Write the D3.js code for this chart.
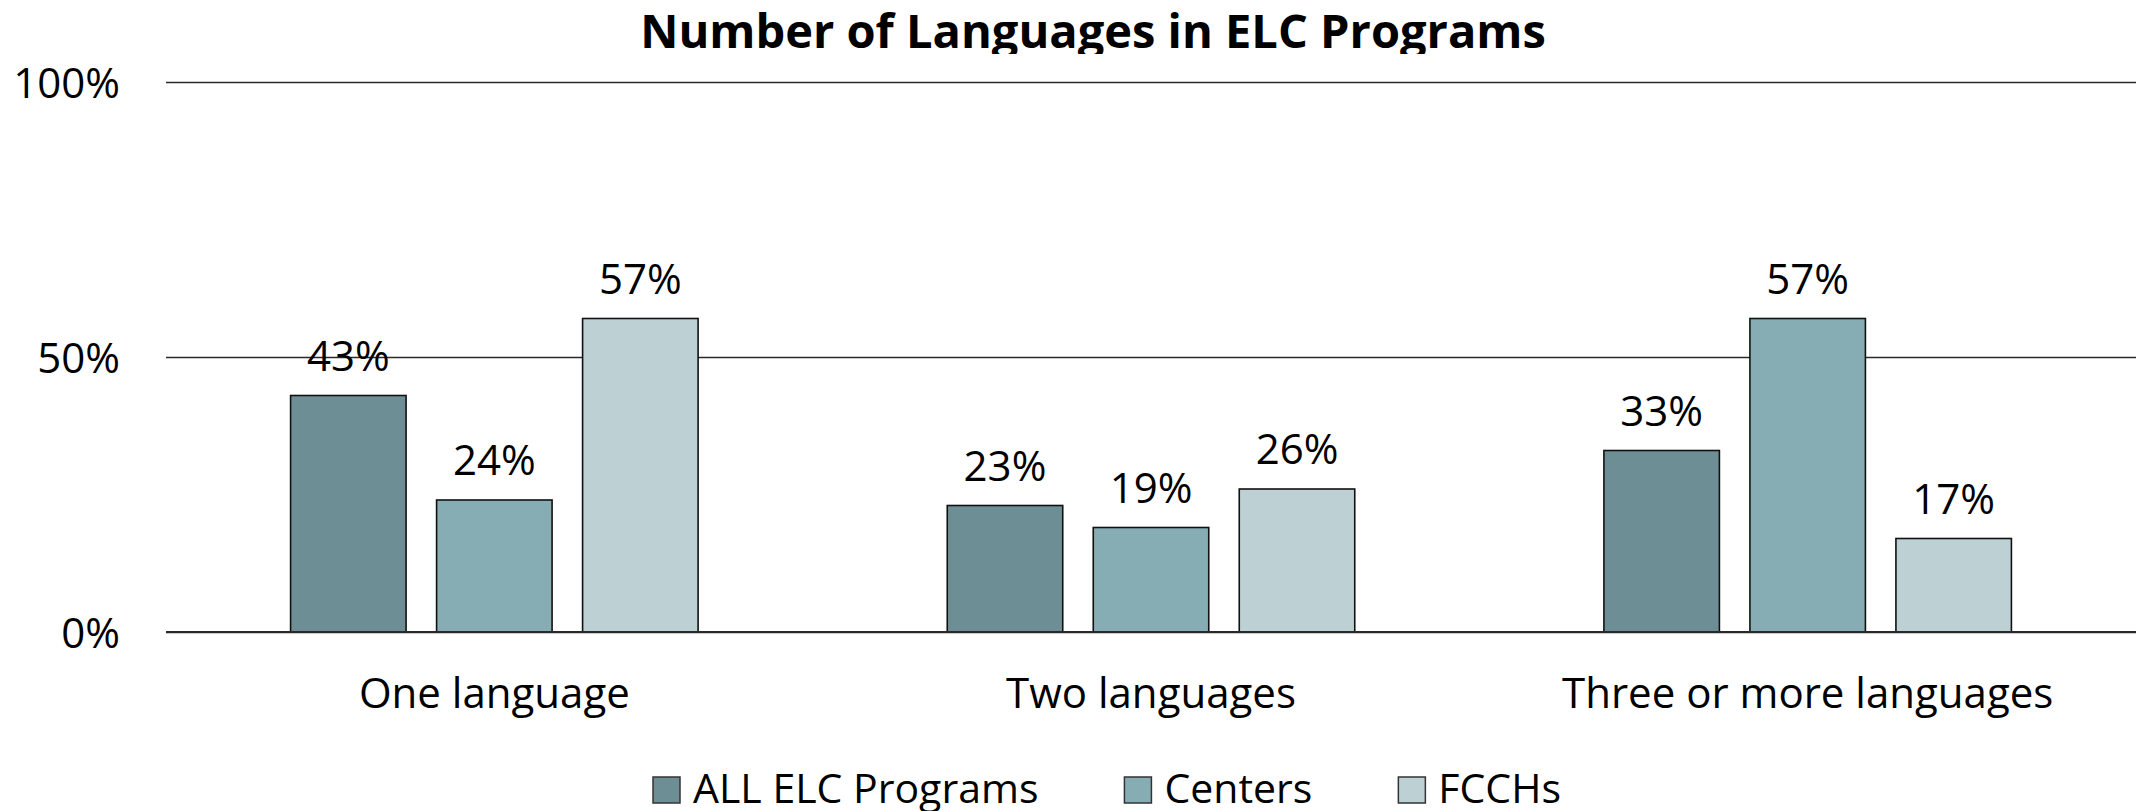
<!DOCTYPE html>
<html>
<head>
<meta charset="utf-8">
<script src="https://cdn.jsdelivr.net/npm/d3@7"></script>
<style>
  html, body { margin: 0; padding: 0; background: #ffffff; }
  svg { display: block; }
  text { font-family: "Open Sans", "Noto Sans", sans-serif; fill: #000; }
</style>
</head>
<body>
<svg id="chart" width="2136" height="811"></svg>
<script>
const title = "Number of Languages in ELC Programs";
const categories = ["One language", "Two languages", "Three or more languages"];
const seriesNames = ["ALL ELC Programs", "Centers", "FCCHs"];
const allElc = [0.43, 0.23, 0.33];
const centers = [0.24, 0.19, 0.57];
const fcchs = [0.57, 0.26, 0.17];
const tickValues = [0, 0.5, 1];
const tickLabels = ["0%", "50%", "100%"];
const colors = ["#6E8E96", "#86ADB4", "#BDD0D4"];

const seriesValues = [allElc, centers, fcchs];

const W = 2136, H = 811;
const margin = { left: 166, right: 0 };
const svg = d3.select("#chart");

const x0 = d3.scaleBand().domain(categories).range([margin.left, W - margin.right]).padding(0);
const groupWidth = 407.5;
const x1 = d3.scaleBand().domain(seriesNames).range([0, groupWidth]).paddingInner(0.209).paddingOuter(0);
const y = d3.scaleLinear().domain([0, 1]).range([632, 82]);

// Title (clipped at the bottom like the reference)
svg.append("clipPath").attr("id", "titleClip")
  .append("rect").attr("x", 0).attr("y", 0).attr("width", W).attr("height", 54);
svg.append("text")
  .attr("clip-path", "url(#titleClip)")
  .attr("x", 1093).attr("y", 48)
  .attr("text-anchor", "middle")
  .attr("font-weight", "bold")
  .attr("font-size", 47)
  .text(title);

// Gridlines + y tick labels
const yAxis = d3.axisLeft(y).tickValues(tickValues)
  .tickSize(-(W - margin.left - margin.right))
  .tickFormat((d, i) => tickLabels[i]);
const yg = svg.append("g").attr("transform", `translate(${margin.left},0)`).call(yAxis);
yg.select(".domain").remove();
yg.selectAll(".tick line").attr("stroke", "#2a2a2a").attr("stroke-width", 1.6);
yg.selectAll(".tick text")
  .attr("x", -46)
  .attr("dy", null)
  .attr("y", 15)
  .attr("font-size", 42)
  .attr("font-family", '"Open Sans", "Noto Sans", sans-serif')
  .attr("fill", "#000");

// Bars
const groups = svg.append("g").selectAll("g")
  .data(categories)
  .join("g")
  .attr("transform", d => `translate(${x0(d) + (x0.bandwidth() - groupWidth) / 2},0)`);

groups.selectAll("rect")
  .data((c, ci) => seriesNames.map((s, si) => ({ s, si, v: seriesValues[si][ci] })))
  .join("rect")
  .attr("x", d => x1(d.s))
  .attr("y", d => y(d.v))
  .attr("width", x1.bandwidth())
  .attr("height", d => y(0) - y(d.v))
  .attr("fill", d => colors[d.si])
  .attr("stroke", "#111")
  .attr("stroke-width", 1.6);

groups.selectAll("text.val")
  .data((c, ci) => seriesNames.map((s, si) => ({ s, si, v: seriesValues[si][ci] })))
  .join("text")
  .attr("class", "val")
  .attr("x", d => x1(d.s) + x1.bandwidth() / 2)
  .attr("y", d => y(d.v) - 25)
  .attr("text-anchor", "middle")
  .attr("font-size", 42)
  .text(d => Math.round(d.v * 100) + "%");

// Zero baseline
svg.append("line")
  .attr("x1", margin.left).attr("x2", W - margin.right)
  .attr("y1", y(0)).attr("y2", y(0))
  .attr("stroke", "#2a2a2a").attr("stroke-width", 2);

// Category labels
const xAxis = d3.axisBottom(x0).tickSize(0).tickPadding(0);
const xg = svg.append("g").attr("transform", `translate(0,${y(0)})`).call(xAxis);
xg.select(".domain").remove();
xg.selectAll(".tick text")
  .attr("y", 76)
  .attr("dy", null)
  .attr("font-size", 42)
  .attr("font-family", '"Open Sans", "Noto Sans", sans-serif')
  .attr("fill", "#000");

// Legend
const legend = svg.append("g");
let lx = 653;
seriesNames.forEach((name, i) => {
  const g = legend.append("g").attr("transform", `translate(${lx},0)`);
  g.append("rect")
    .attr("x", 0).attr("y", 777)
    .attr("width", 27).attr("height", 26)
    .attr("fill", colors[i])
    .attr("stroke", "#333").attr("stroke-width", 1.5);
  const t = g.append("text")
    .attr("x", 40).attr("y", 803)
    .attr("font-size", 41)
    .text(name);
  const w = t.node().getComputedTextLength();
  lx += 40 + w + 86;
});
</script>
</body>
</html>
